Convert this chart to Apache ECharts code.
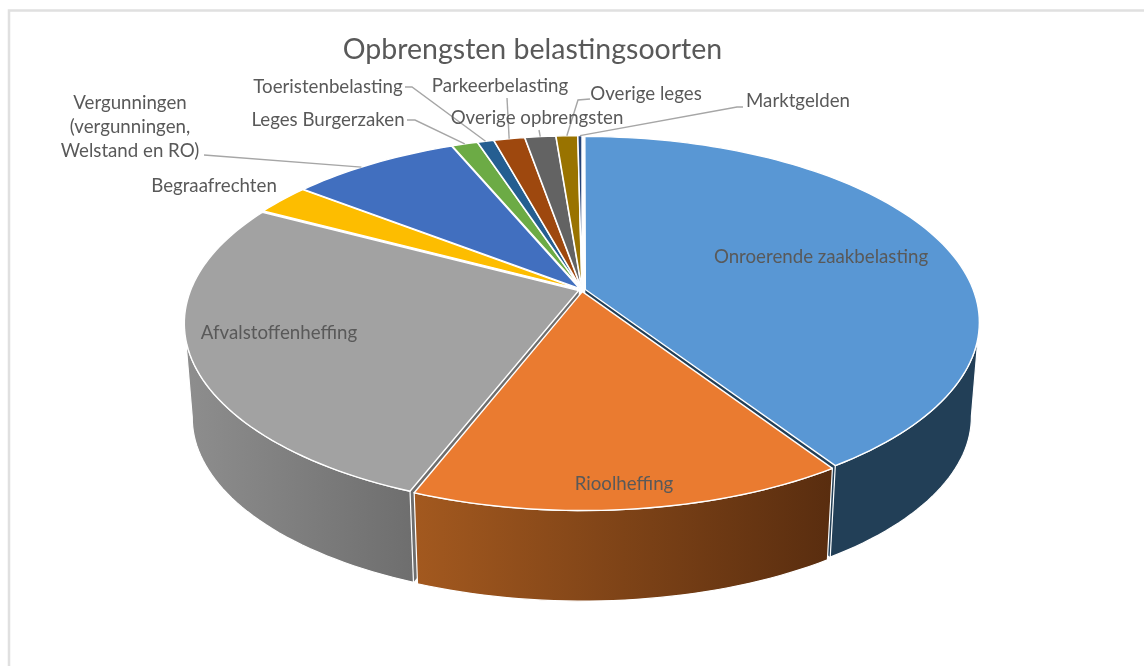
<!DOCTYPE html>
<html>
<head>
<meta charset="utf-8">
<title>Opbrengsten belastingsoorten</title>
<script src="https://cdn.jsdelivr.net/npm/echarts@6/dist/echarts.min.js"></script>
<style>
  html, body { margin: 0; padding: 0; background: #fff; }
  #chart { width: 1144px; height: 666px; filter: blur(0.45px); }
</style>
</head>
<body>
<div id="chart"></div>
<script>
// share per belastingsoort (percent)
var categories = [
  'Onroerende zaakbelasting',
  'Rioolheffing',
  'Afvalstoffenheffing',
  'Begraafrechten',
  'Vergunningen\n(vergunningen,\nWelstand en RO)',
  'Leges Burgerzaken',
  'Toeristenbelasting',
  'Parkeerbelasting',
  'Overige opbrengsten',
  'Overige leges',
  'Marktgelden'
];
var values = [40.75, 15.15, 26.9, 2.7, 8.2, 1.25, 0.8, 1.5, 1.5, 1.05, 0.2];

var topColors = ['#5997d4', '#ea7b30', '#a2a2a2', '#fdbd00', '#416fbf', '#6cab45', '#255e91', '#9e480e', '#636363', '#997300', '#264478'];
// wall gradient, left to right
var wallColors = [
  ['#223f57', '#223f57'],
  ['#a3591f', '#592d0f'],
  ['#8e8e8e', '#6e6e6e']
];

// label centre, and the bends of its leader line (the line ends on the slice rim)
var labelPos = [
  [821, 257], [624, 484], [279, 333], [214, 186], [130, 127],
  [328, 120], [328, 87], [500, 86], [537, 118], [646, 94], [798, 101]
];
var leaderBends = [
  null, null, null, null, [[204, 155]],
  [[407, 120], [415, 120]], [[405, 87], [412, 87]], [[507, 98]], [[539, 130]], [[590, 99], [578, 100]], [[743, 107], [737, 107]]
];
// where on its arc (0..1) the leader touches the slice
var leaderAt = [0, 0, 0, 0, 0.42, 0.5, 0.5, 0.5, 0.5, 0.5, 0.5];

// perspective of the disc
var cx = 582, cy = 290;
var a = 388, b = 180, k = 0.175;
var depthScale = 0.98, depthShift = 95;
var explode = 0.009;
var wallFrom = 100, wallTo = 260; // silhouette of the cylinder, degrees

function project(X, Y, low) {
  var w = 1 - k * Y;
  var sx = a * X / w;
  var sy = b * Y / w;
  if (low) {
    return [cx + depthScale * sx, cy + depthScale * sy + depthShift];
  }
  return [cx + sx, cy + sy];
}

function rad(d) { return d * Math.PI / 180; }

var total = values.reduce(function (s, v) { return s + v; }, 0);
var slices = [];
var acc = 0;
values.forEach(function (v) {
  var from = acc / total * 360;
  acc += v;
  var to = acc / total * 360;
  var mid = (from + to) / 2;
  slices.push({ from: from, to: to, ex: explode * Math.sin(rad(mid)), ey: -explode * Math.cos(rad(mid)) });
});

function rim(s, deg, low) {
  return project(s.ex + Math.sin(rad(deg)), s.ey - Math.cos(rad(deg)), low);
}

function arc(s, from, to, low) {
  var pts = [];
  var n = Math.max(2, Math.ceil(Math.abs(to - from) / 1.5));
  for (var i = 0; i <= n; i++) {
    pts.push(rim(s, from + (to - from) * i / n, low));
  }
  return pts;
}

function renderSlice(params, api) {
  var i = params.dataIndex;
  var s = slices[i];
  var children = [];

  // top face
  children.push({
    type: 'polygon',
    z2: 30,
    shape: { points: [project(s.ex, s.ey)].concat(arc(s, s.from, s.to)) },
    style: { fill: topColors[i], stroke: '#fff', lineWidth: 1.4, lineJoin: 'round' }
  });

  // outer wall, only the part facing us
  var wf = Math.max(s.from, wallFrom);
  var wt = Math.min(s.to, wallTo);
  if (wt > wf) {
    children.push({
      type: 'polygon',
      z2: 20,
      shape: { points: arc(s, wf, wt).concat(arc(s, wt, wf, true)) },
      style: {
        fill: new echarts.graphic.LinearGradient(0, 0, 1, 0, [
          { offset: 0, color: wallColors[i][0] },
          { offset: 1, color: wallColors[i][1] }
        ]),
        stroke: '#fff',
        lineWidth: 1.2
      }
    });
  }

  // inner cut faces that look at us through the gap between slices
  var cuts = [];
  if (s.to > 90 && s.to < 180) cuts.push(s.to);
  if (s.from > 180 && s.from < 270) cuts.push(s.from);
  cuts.forEach(function (deg) {
    children.push({
      type: 'polygon',
      z2: 10,
      shape: { points: [project(s.ex, s.ey), rim(s, deg), rim(s, deg, true), project(s.ex, s.ey, true)] },
      style: { fill: wallColors[i] ? wallColors[i][1] : '#666' }
    });
  });

  // leader line
  if (leaderBends[i]) {
    var end = rim(s, s.from + (s.to - s.from) * leaderAt[i]);
    children.push({
      type: 'polyline',
      z2: 40,
      shape: { points: leaderBends[i].concat([end]) },
      style: { fill: null, stroke: '#a6a6a6', lineWidth: 1.4 }
    });
  }

  // label
  children.push({
    type: 'text',
    z2: 50,
    style: {
      text: categories[i],
      x: labelPos[i][0],
      y: labelPos[i][1],
      align: 'center',
      verticalAlign: 'middle',
      fill: '#595959',
      font: '18.7px Lato',
      lineHeight: 24
    }
  });

  return { type: 'group', children: children };
}

var chart = echarts.init(document.getElementById('chart'), null, { renderer: 'canvas' });

chart.setOption({
  animation: false,
  backgroundColor: '#fff',
  title: {
    text: 'Opbrengsten belastingsoorten',
    left: 527.5,
    top: 30,
    textAlign: 'center',
    textStyle: { color: '#595959', fontFamily: 'Lato', fontSize: 28.5, fontWeight: 'normal' }
  },
  graphic: [{
    type: 'polyline',
    silent: true,
    shape: { points: [[9, 666], [9, 10.5], [1144, 10.5]] },
    style: { fill: null, stroke: '#e0e0e0', lineWidth: 2.5 }
  }],
  series: [{
    type: 'custom',
    coordinateSystem: 'none',
    data: values,
    renderItem: renderSlice
  }]
});
</script>
</body>
</html>
